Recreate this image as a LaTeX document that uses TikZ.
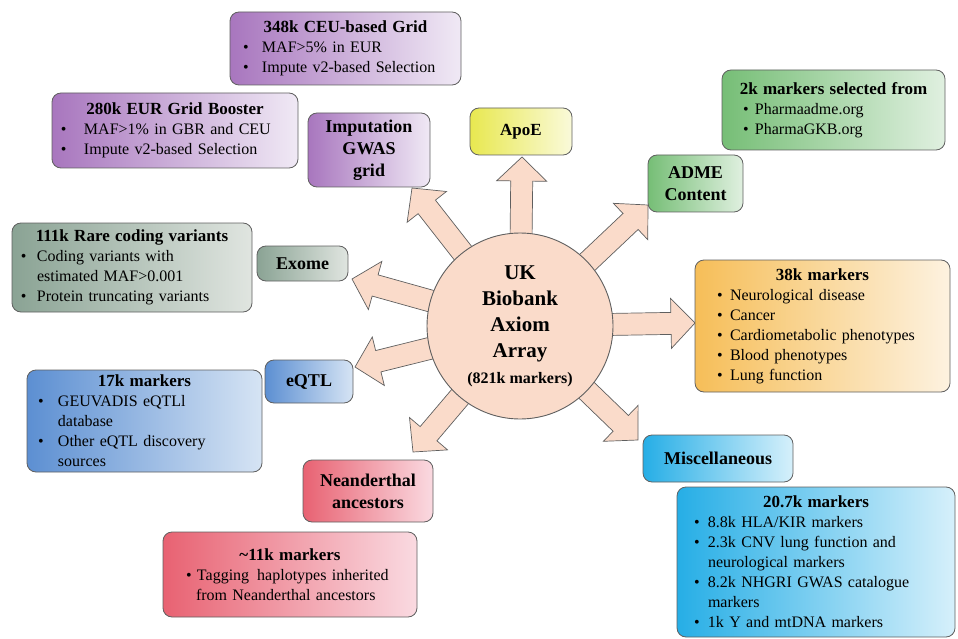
\documentclass[tikz,border=0pt]{standalone}
\usepackage{fontspec}
\setmainfont{Liberation Serif}
\usetikzlibrary{calc}
\definecolor{purpleL}{RGB}{168,118,190}
\definecolor{purpleR}{RGB}{240,233,245}
\definecolor{yellowL}{RGB}{232,232,80}
\definecolor{yellowR}{RGB}{250,250,218}
\definecolor{greenL}{RGB}{118,190,118}
\definecolor{greenR}{RGB}{224,240,224}
\definecolor{greyL}{RGB}{138,163,148}
\definecolor{greyR}{RGB}{224,229,224}
\definecolor{orangeL}{RGB}{246,190,88}
\definecolor{orangeR}{RGB}{253,242,224}
\definecolor{blueL}{RGB}{92,143,210}
\definecolor{blueR}{RGB}{214,228,244}
\definecolor{redL}{RGB}{232,98,114}
\definecolor{redR}{RGB}{250,218,225}
\definecolor{cyanL}{RGB}{38,174,230}
\definecolor{cyanR}{RGB}{214,240,251}
\definecolor{peach}{RGB}{250,219,202}
\definecolor{edge}{RGB}{95,95,95}
\newcommand\ttl[1]{\makebox[\hsize][c]{\fontsize{17}{20}\selectfont\bfseries #1}}
\newcommand\bul[3]{\hspace*{#1pt}\makebox[#2pt][l]{\textbullet}#3}
\newcommand\cnt[3]{\hspace*{#1pt}\hspace*{#2pt}#3}
\newcommand\blockarr[2]{%
  \coordinate (hb) at ($(#2)!24pt!(#1)$);
  \draw[arr] ($(#1)!11pt!90:(#2)$) -- ($(hb)!11pt!90:(#2)$) -- ($(hb)!25pt!90:(#2)$) -- (#2)
     -- ($(hb)!25pt!-90:(#2)$) -- ($(hb)!11pt!-90:(#2)$) -- ($(#1)!11pt!-90:(#2)$) -- cycle;}
\begin{document}
\begin{tikzpicture}[x=1pt,y=-1pt,
  box/.style={draw=edge, line width=0.8pt, rounded corners=9pt, inner sep=0pt},
  bigbox/.style={box, align=left, font=\fontsize{16}{20}\selectfont},
  cat/.style={box, align=center, font=\fontsize{18}{22}\selectfont\bfseries},
  arr/.style={draw=edge, line width=0.7pt, fill=peach, line join=miter}]
\useasboundingbox (0,0) rectangle (958,639);

% arrows
\coordinate (cc) at (520,326);
\coordinate (tApoE) at (522,157);
\coordinate (tImp) at (412,188);
\coordinate (tAdme) at (648,205);
\coordinate (tExome) at (352,279);
\coordinate (t38) at (695,323);
\coordinate (teQTL) at (355,367);
\coordinate (tNean) at (413,452);
\coordinate (tMisc) at (638,440);
\blockarr{cc}{tApoE}
\blockarr{cc}{tImp}
\blockarr{cc}{tAdme}
\blockarr{cc}{tExome}
\blockarr{cc}{t38}
\blockarr{cc}{teQTL}
\blockarr{cc}{tNean}
\blockarr{cc}{tMisc}

% centre
\node[circle, draw=edge, line width=0.9pt, fill=peach, minimum size=186pt, inner sep=0pt,
  align=center, font=\fontsize{21}{26}\selectfont\bfseries] (c) at (cc)
  {UK\\Biobank\\Axiom\\Array\\{\fontsize{16}{20}\selectfont (821k markers)}};

% category boxes
\node[cat, left color=purpleL, right color=purpleR, minimum width=122pt, minimum height=74pt] (imp) at (369,150) {Imputation\\GWAS\\grid};
\node[cat, left color=yellowL, right color=yellowR, minimum width=102pt, minimum height=47pt, font=\fontsize{17}{20}\selectfont\bfseries] (apoe) at (521,131.5) {ApoE};
\node[cat, left color=greenL, right color=greenR, minimum width=95pt, minimum height=57pt] (adme) at (695.5,183.5) {ADME\\Content};
\node[cat, left color=greyL, right color=greyR, minimum width=91pt, minimum height=35pt] (exome) at (302.5,263.5) {Exome};
\node[cat, left color=blueL, right color=blueR, minimum width=88pt, minimum height=43pt] (eqtl) at (309,381.5) {eQTL};
\node[cat, left color=redL, right color=redR, minimum width=130pt, minimum height=62pt] (nean) at (368,491) {Neanderthal\\ancestors};
\node[cat, left color=cyanL, right color=cyanR, minimum width=150pt, minimum height=47pt] (misc) at (718,458.5) {Miscellaneous};

% detail boxes
\node[bigbox, left color=purpleL, right color=purpleR, minimum width=231pt, minimum height=73pt, text width=231pt] (b348) at (345.5,48.5)
  {\ttl{348k CEU-based Grid}\\ \bul{13}{19}{MAF>5\% in EUR}\\ \bul{13}{19}{Impute v2-based Selection}};
\node[bigbox, left color=purpleL, right color=purpleR, minimum width=246pt, minimum height=75pt, text width=246pt] (b280) at (175,130.5)
  {\ttl{280k EUR Grid Booster}\\ \bul{9}{23}{MAF>1\% in GBR and CEU}\\ \bul{9}{23}{Impute v2-based Selection}};
\node[bigbox, left color=greenL, right color=greenR, minimum width=223pt, minimum height=80pt, text width=223pt] (b2k) at (833.5,110)
  {\ttl{2k markers selected from}\\ \bul{21}{12}{Pharmaadme.org}\\ \bul{21}{12}{PharmaGKB.org}};
\node[bigbox, left color=greyL, right color=greyR, minimum width=240pt, minimum height=89pt, text width=240pt] (b111) at (132,267.5)
  {\ttl{111k Rare coding variants}\\ \bul{9}{16}{Coding variants with}\\ \cnt{9}{16}{estimated MAF>0.001}\\ \bul{9}{16}{Protein truncating variants}};
\node[bigbox, left color=orangeL, right color=orangeR, minimum width=255pt, minimum height=132pt, text width=255pt] (b38) at (822.5,326)
  {\ttl{38k markers}\\ \bul{22}{13}{Neurological disease}\\ \bul{22}{13}{Cancer}\\ \bul{22}{13}{Cardiometabolic phenotypes}\\ \bul{22}{13}{Blood phenotypes}\\ \bul{22}{13}{Lung function}};
\node[bigbox, left color=blueL, right color=blueR, minimum width=235pt, minimum height=102pt, text width=235pt] (b17) at (144.5,421)
  {\ttl{17k markers}\\ \bul{11}{20}{GEUVADIS eQTLl}\\ \cnt{11}{20}{database}\\ \bul{11}{20}{Other eQTL discovery}\\ \cnt{11}{20}{sources}};
\node[bigbox, left color=redL, right color=redR, minimum width=254pt, minimum height=85pt, text width=254pt] (b11) at (290,574.5)
  {\ttl{\textasciitilde 11k markers}\\ \bul{23}{11}{Tagging\enspace haplotypes inherited}\\ \cnt{23}{10}{from Neanderthal ancestors}};
\node[bigbox, left color=cyanL, right color=cyanR, minimum width=278pt, minimum height=150pt, text width=278pt] (b207) at (816,562)
  {\ttl{20.7k markers}\\ \bul{17}{14}{8.8k HLA/KIR markers}\\ \bul{17}{14}{2.3k CNV lung function and}\\ \cnt{17}{14}{neurological markers}\\ \bul{17}{14}{8.2k NHGRI GWAS catalogue}\\ \cnt{17}{14}{markers}\\ \bul{17}{14}{1k Y and mtDNA markers}};
\end{tikzpicture}
\end{document}
